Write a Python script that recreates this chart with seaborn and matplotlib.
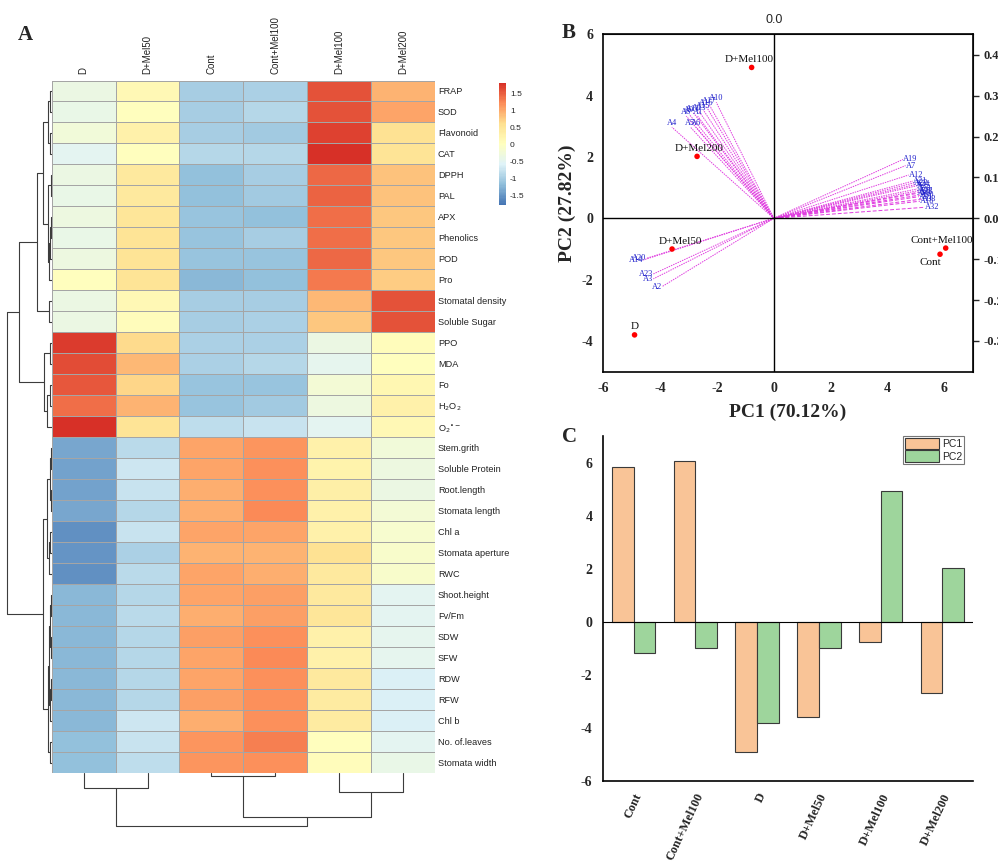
import numpy as np
import pandas as pd
import matplotlib
matplotlib.use("Agg")
import matplotlib.pyplot as plt
from matplotlib.colors import LinearSegmentedColormap
from matplotlib.ticker import MultipleLocator, FixedLocator
import seaborn as sns

# ---------------- data : panel A (row scaled heatmap) ----------------
hm_rows = ["FRAP", "SOD", "Flavonoid", "CAT", "DPPH", "PAL", "APX", "Phenolics", "POD", "Pro",
           "Stomatal density", "Soluble Sugar", "PPO", "MDA", "Fo", r"H$_2$O$_2$", r"O$_2$$^{\bullet -}$",
           "Stem.grith", "Soluble Protein", "Root.length", "Stomata length", "Chl a", "Stomata aperture",
           "RWC", "Shoot.height", "Fv/Fm", "SDW", "SFW", "RDW", "RFW", "Chl b", "No. of.leaves",
           "Stomata width"]
hm_cols = ["D", "D+Mel50", "Cont", "Cont+Mel100", "D+Mel100", "D+Mel200"]

hm_D = [-0.35, -0.40, -0.25, -0.50, -0.35, -0.40, -0.30, -0.40, -0.30, 0.05,
        -0.35, -0.35, 1.75, 1.62, 1.55, 1.40, 1.83,
        -1.35, -1.40, -1.40, -1.35, -1.55, -1.50, -1.55, -1.20, -1.20, -1.20,
        -1.20, -1.20, -1.20, -1.20, -1.15, -1.15]
hm_DMel50 = [0.15, 0.05, 0.30, 0.05, 0.45, 0.45, 0.50, 0.55, 0.55, 0.55,
             0.15, 0.10, 0.65, 0.90, 0.70, 0.95, 0.55,
             -0.85, -0.70, -0.75, -0.90, -0.75, -0.95, -0.85, -0.90, -0.85, -0.90,
             -0.90, -0.90, -0.90, -0.70, -0.75, -0.80]
hm_Cont = [-1.00, -1.00, -1.00, -0.88, -1.15, -1.15, -1.10, -1.10, -1.10, -1.20,
           -1.00, -1.00, -0.95, -0.95, -1.10, -1.10, -0.80,
           1.05, 1.05, 1.00, 1.00, 1.05, 0.95, 1.05, 1.05, 1.00, 1.10,
           1.05, 1.05, 1.10, 1.00, 1.15, 1.15]
hm_ContMel100 = [-0.97, -0.90, -1.03, -0.88, -1.00, -1.05, -1.15, -1.00, -1.10, -1.15,
                 -1.00, -0.95, -0.95, -0.90, -1.10, -1.05, -0.75,
                 1.15, 1.20, 1.20, 1.25, 1.05, 0.95, 1.00, 1.10, 1.10, 1.20,
                 1.25, 1.20, 1.20, 1.20, 1.30, 1.20]
hm_DMel100 = [1.60, 1.60, 1.72, 1.83, 1.45, 1.50, 1.40, 1.40, 1.45, 1.35,
              0.90, 0.80, -0.35, -0.45, -0.20, -0.30, -0.50,
              0.30, 0.25, 0.35, 0.30, 0.30, 0.60, 0.45, 0.45, 0.50, 0.30,
              0.30, 0.45, 0.40, 0.40, 0.05, 0.10]
hm_DMel200 = [0.95, 1.05, 0.60, 0.55, 0.85, 0.85, 0.80, 0.80, 0.80, 0.75,
              1.60, 1.60, 0.10, 0.05, 0.20, 0.30, 0.15,
              -0.25, -0.30, -0.35, -0.20, -0.15, -0.10, -0.10, -0.50, -0.50, -0.45,
              -0.45, -0.60, -0.60, -0.60, -0.50, -0.40]

# dendrograms as (left, right, height); leaves are row / column indices
row_tree = ((((((0, 1, 1.5), (2, 3, 1.5), 3.5),
               ((4, 5, 1.0), (((6, 7, 0.8), 8, 1.5), 9, 2.8), 3.5), 9),
              (10, 11, 3), 15),
             ((12, 13, 2), ((14, 15, 2), 16, 5), 8), 33),
            ((((17, 18, 1.0), (19, 20, 1.2), 2.0), ((21, 22, 1.5), 23, 2.5), 4.5),
             ((((24, 25, 0.8), (26, 27, 0.8), 1.5), ((28, 29, 0.8), 30, 1.5), 2.5),
              (31, 32, 1.5), 4), 9), 45)
col_tree = ((0, 1, 15), ((2, 3, 3), (4, 5, 19), 44), 53)

# ---------------- data : panels B and C (PCA) ----------------
groups = ["Cont", "Cont+Mel100", "D", "D+Mel50", "D+Mel100", "D+Mel200"]
pc1 = [5.85, 6.05, -4.90, -3.58, -0.78, -2.70]
pc2 = [-1.17, -0.97, -3.80, -1.00, 4.92, 2.02]

load_names = ["A4", "A5", "A6", "A8", "A9", "A11", "A13", "A15", "A16", "A17", "A1", "A10",
              "A14", "A20", "A23", "A3", "A2",
              "A19", "A7", "A12", "A21", "A22", "A24", "A25", "A26", "A27", "A28", "A29",
              "A30", "A31", "A33", "A18", "A32"]
load_pc1 = [-0.269, -0.220, -0.205, -0.231, -0.223, -0.212, -0.197, -0.186, -0.178, -0.170, -0.201, -0.152,
            -0.345, -0.337, -0.318, -0.318, -0.295,
            0.341, 0.348, 0.356, 0.367, 0.371, 0.375, 0.379, 0.379, 0.383, 0.383, 0.379,
            0.386, 0.383, 0.390, 0.386, 0.398]
load_pc2 = [0.223, 0.223, 0.223, 0.250, 0.254, 0.258, 0.261, 0.265, 0.273, 0.277, 0.250, 0.284,
            -0.102, -0.098, -0.136, -0.148, -0.167,
            0.144, 0.129, 0.106, 0.091, 0.087, 0.083, 0.080, 0.072, 0.068, 0.064, 0.061,
            0.057, 0.053, 0.047, 0.042, 0.027]

SERIF = "Liberation Serif"
SANS = "Liberation Sans"
W, H = 998, 861


def frac(x0, y0, x1, y1):
    # pixel box -> figure fraction [left, bottom, width, height]
    return [x0 / W, 1 - y1 / H, (x1 - x0) / W, (y1 - y0) / H]


def draw_tree(ax, node, orient):
    if isinstance(node, int):
        return node + 0.5, 0
    left, right, h = node
    pl, hl = draw_tree(ax, left, orient)
    pr, hr = draw_tree(ax, right, orient)
    if orient == "left":
        ax.plot([hl, h, h, hr], [pl, pl, pr, pr], color="#3c3c3c", lw=0.8)
    else:
        ax.plot([pl, pl, pr, pr], [hl, h, h, hr], color="#3c3c3c", lw=0.8)
    return (pl + pr) / 2, h


def PanelA(fig):
    df = pd.DataFrame({"D": hm_D, "D+Mel50": hm_DMel50, "Cont": hm_Cont,
                       "Cont+Mel100": hm_ContMel100, "D+Mel100": hm_DMel100,
                       "D+Mel200": hm_DMel200}, index=hm_rows)[hm_cols]
    cmap = LinearSegmentedColormap.from_list(
        "pheat", ["#4575B4", "#91BFDB", "#E0F3F8", "#FFFFBF", "#FEE090", "#FC8D59", "#D73027"], N=100)

    ax = fig.add_axes(frac(51.7, 80.5, 435, 773.3))
    cax = fig.add_axes(frac(499, 82.7, 505.7, 205))
    sns.heatmap(df, ax=ax, cmap=cmap, vmin=-1.77, vmax=1.83, cbar_ax=cax,
                linewidths=0.6, linecolor="#a5a5a5")
    ax.xaxis.tick_top()
    ax.yaxis.tick_right()
    ax.set_xticklabels(hm_cols, rotation=90, fontsize=7, family=SANS, color="#222222")
    ax.set_yticklabels(hm_rows, rotation=0, fontsize=6.6, family=SANS, color="#222222")
    ax.tick_params(length=0, pad=5, axis="x")
    ax.tick_params(length=0, pad=2, axis="y")
    ax.set_xlabel("")
    ax.set_ylabel("")

    cbar = ax.collections[0].colorbar
    cbar.set_ticks([-1.5, -1, -0.5, 0, 0.5, 1, 1.5])
    cbar.set_ticklabels(["-1.5", "-1", "-0.5", "0", "0.5", "1", "1.5"], fontsize=6, family=SANS)
    cbar.outline.set_visible(False)
    cax.tick_params(length=0, pad=3)

    # row dendrogram
    axr = fig.add_axes(frac(3, 80.5, 51.7, 773.3))
    draw_tree(axr, row_tree, "left")
    axr.set_xlim(48.7, 0)
    axr.set_ylim(len(hm_rows), 0)
    axr.axis("off")

    # column dendrogram
    axc = fig.add_axes(frac(51.7, 773.3, 435, 830))
    draw_tree(axc, col_tree, "bottom")
    axc.set_xlim(0, len(hm_cols))
    axc.set_ylim(56.7, 0)
    axc.axis("off")


def PanelB(fig):
    ax = fig.add_axes(frac(603.3, 34.3, 972.7, 371.7))
    scale = 13.33
    for name, lx, ly in zip(load_names, load_pc1, load_pc2):
        x, y = lx * scale, ly * scale
        ls = (0, (4, 2)) if (x > 0 and y < 0.9) else (0, (1.5, 1))
        ax.plot([0, x], [0, y], color="#E03CE0", lw=0.7, ls=ls)
        if x > 0:
            ax.text(x, y, name, color="#2222CC", fontsize=6, family=SERIF, ha="left", va="center")
        elif y > 0:
            ax.text(x, y, name, color="#2222CC", fontsize=6, family=SERIF, ha="center", va="bottom")
        else:
            ax.text(x, y, name, color="#2222CC", fontsize=6, family=SERIF, ha="right", va="center")

    ax.axhline(0, color="black", lw=1.0)
    ax.axvline(0, color="black", lw=1.0)
    sns.scatterplot(x=pc1, y=pc2, color="red", s=16, edgecolor="none", ax=ax, zorder=5)
    offs = {"Cont": (-10, -8), "Cont+Mel100": (-4, 8), "D": (0, 8),
            "D+Mel50": (8, 8), "D+Mel100": (-2, 8), "D+Mel200": (2, 8)}
    for g, x, y in zip(groups, pc1, pc2):
        ax.annotate(g, (x, y), xytext=offs[g], textcoords="offset pixels",
                    ha="center", va="center", fontsize=8, family=SERIF, color="#111111")

    ax.set_xlim(-6, 7)
    ax.set_ylim(-5, 6)
    ax.xaxis.set_major_locator(FixedLocator([-6, -4, -2, 0, 2, 4, 6]))
    ax.xaxis.set_minor_locator(FixedLocator([-5, -3, -1, 1, 3, 5]))
    ax.yaxis.set_major_locator(FixedLocator([-4, -2, 0, 2, 4, 6]))
    ax.yaxis.set_minor_locator(FixedLocator([-5, -3, -1, 1, 3, 5]))
    ax.tick_params(which="major", direction="out", length=4, width=1.0)
    ax.tick_params(which="minor", direction="out", length=2.5, width=1.0)
    for lab in ax.get_xticklabels() + ax.get_yticklabels():
        lab.set_family(SERIF)
        lab.set_fontweight("bold")
        lab.set_fontsize(10)
    for sp in ax.spines.values():
        sp.set_linewidth(1.2)
        sp.set_color("black")
    ax.set_xlabel("PC1 (70.12%)", fontsize=14, fontweight="bold", family=SERIF, labelpad=6)
    ax.set_ylabel("PC2 (27.82%)", fontsize=14, fontweight="bold", family=SERIF, labelpad=4)

    # loading axes (right and top)
    axr = ax.secondary_yaxis("right", functions=(lambda v: v / scale, lambda v: v * scale))
    axr.set_yticks([-0.3, -0.2, -0.1, 0.0, 0.1, 0.2, 0.3, 0.4])
    axr.set_yticklabels(["-0.3", "-0.2", "-0.1", "0.0", "0.1", "0.2", "0.3", "0.4"],
                        family=SERIF, fontweight="bold", fontsize=9)
    axr.tick_params(direction="out", length=4, width=1.0)
    axt = ax.secondary_xaxis("top", functions=(lambda v: v / scale, lambda v: v * scale))
    axt.set_xticks([0.0])
    axt.set_xticklabels(["0.0"], family=SANS, fontsize=9)
    axt.tick_params(length=0, pad=6)


def PanelC(fig):
    ax = fig.add_axes(frac(602.7, 436, 973.3, 781))
    df = pd.DataFrame({"group": groups * 2,
                       "pc": ["PC1"] * len(groups) + ["PC2"] * len(groups),
                       "value": pc1 + pc2})
    sns.barplot(data=df, x="group", y="value", hue="pc", order=groups, hue_order=["PC1", "PC2"],
                palette={"PC1": "#F9C497", "PC2": "#9ED59C"}, edgecolor="#3a3a3a",
                linewidth=0.8, width=0.7, saturation=1, errorbar=None, ax=ax)
    ax.axhline(0, color="black", lw=0.8)
    ax.set_xlim(-0.5, 5.5)
    ax.set_ylim(-6, 7)
    ax.yaxis.set_major_locator(MultipleLocator(2))
    for sp in ["top", "right"]:
        ax.spines[sp].set_visible(False)
    for sp in ["left", "bottom"]:
        ax.spines[sp].set_linewidth(1.2)
        ax.spines[sp].set_color("black")
    ax.tick_params(direction="out", length=4, width=1.0)
    ax.set_xticks(range(len(groups)))
    ax.set_xticklabels(groups, rotation=65, ha="right", va="top", rotation_mode="anchor",
                       family=SERIF, fontweight="bold", fontsize=9)
    for lab in ax.get_yticklabels():
        lab.set_family(SERIF)
        lab.set_fontweight("bold")
        lab.set_fontsize(10)
    ax.set_xlabel("")
    ax.set_ylabel("")
    leg = ax.legend(loc="upper right", bbox_to_anchor=(0.975, 1.0), fontsize=7.5,
                    frameon=True, fancybox=False, borderpad=0.2, handlelength=3.2,
                    handleheight=1.3, labelspacing=0.1, handletextpad=0.3, borderaxespad=0)
    leg.get_frame().set_edgecolor("#555555")
    leg.get_frame().set_linewidth(0.8)
    for t in leg.get_texts():
        t.set_family(SANS)


def main():
    sns.set_style("white")
    plt.rcParams["axes.unicode_minus"] = False
    fig = plt.figure(figsize=(W / 100, H / 100), dpi=100)
    PanelA(fig)
    PanelB(fig)
    PanelC(fig)
    fig.text(18 / W, 1 - 35 / H, "A", fontsize=15, fontweight="bold", family=SERIF, va="center")
    fig.text(562 / W, 1 - 33 / H, "B", fontsize=15, fontweight="bold", family=SERIF, va="center")
    fig.text(562 / W, 1 - 437 / H, "C", fontsize=15, fontweight="bold", family=SERIF, va="center")
    fig.savefig("out.png", dpi=100)


if __name__ == "__main__":
    main()
